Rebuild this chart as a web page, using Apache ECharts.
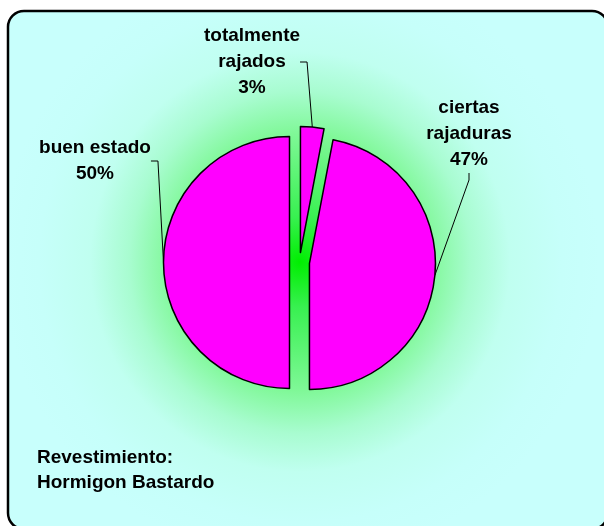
<!DOCTYPE html>
<html><head><meta charset="utf-8">
<script src="https://cdn.jsdelivr.net/npm/echarts@6/dist/echarts.min.js"></script>
<style>html,body{margin:0;padding:0;background:#fff}#c{width:604px;height:526px}</style>
</head><body><div id="c"></div>
<script>
// ---- data ----
const categories = ['totalmente\nrajados', 'ciertas\nrajaduras', 'buen estado'];
const values = [3, 47, 50];
const footerLines = ['Revestimiento:', 'Hormigon Bastardo'];

// ---- layout config (label placement) ----
const labelPlace = [
  {cx: 252, cy: 62, side: 'right'},
  {cx: 469, cy: 134, side: 'bottom'},
  {cx: 95, cy: 161, side: 'right'}
];

const CENTER = [299.5, 262.5];
const R = 126;
const OFFSET = 10;

const chart = echarts.init(document.getElementById('c'));
const font = 'Liberation Sans, Arial, sans-serif';
const dataItems = categories.map((c, i) => ({name: c, value: values[i]}));
chart.setOption({
  animation: false,
  backgroundColor: '#ffffff',
  graphic: [{
    type: 'rect', z: -10,
    shape: {x: 8, y: 11, width: 600, height: 518, r: 16},
    style: {
      fill: {type: 'radial', x: 300, y: 262, r: 300, global: true,
        colorStops: [
          {offset: 0, color: '#00ee00'},
          {offset: 0.15, color: '#38f050'},
          {offset: 0.43, color: '#80f898'},
          {offset: 0.57, color: '#a8fcd0'},
          {offset: 0.7, color: '#c0fff0'},
          {offset: 0.87, color: '#c6fffa'},
          {offset: 1, color: '#c8fffc'}
        ]},
      stroke: '#000', lineWidth: 2.5
    }
  }],
  title: {
    text: footerLines.join('\n'), left: 32, top: 440,
    textStyle: {fontSize: 19, fontWeight: 'bold', lineHeight: 25, fontFamily: font, color: '#000'}
  },
  series: [{
    type: 'pie',
    center: CENTER,
    radius: R,
    startAngle: 90,
    clockwise: true,
    selectedMode: 'multiple',
    selectedOffset: OFFSET,
    itemStyle: {color: '#ff00ff', borderColor: '#000', borderWidth: 1.5},
    emphasis: {disabled: true},
    label: {show: false},
    labelLine: {show: false},
    data: dataItems.map(d => Object.assign({selected: true}, d))
  }, {
    // label carrier: same slices, transparent, radius reaching the exploded arcs
    type: 'pie',
    center: CENTER,
    radius: R + OFFSET,
    startAngle: 90,
    clockwise: true,
    silent: true,
    selectedMode: false,
    avoidLabelOverlap: false,
    itemStyle: {color: 'rgba(0,0,0,0)', borderWidth: 0},
    emphasis: {disabled: true},
    label: {
      show: true, position: 'outside',
      formatter: p => p.name + '\n' + Math.round(p.percent) + '%',
      fontSize: 19, fontWeight: 'bold', lineHeight: 26, fontFamily: font, color: '#000',
      align: 'center'
    },
    labelLine: {show: true, length: 8, length2: 8, lineStyle: {color: '#000', width: 1}},
    labelLayout: function (params) {
      const pl = labelPlace[params.dataIndex];
      const w = params.labelRect.width, h = params.labelRect.height;
      const anchor = params.labelLinePoints ? params.labelLinePoints[0] : [pl.cx, pl.cy];
      let pts;
      if (pl.side === 'right') {
        const ax = pl.cx + w / 2;
        pts = [anchor, [ax + 7, pl.cy], [ax, pl.cy]];
      } else {
        const ay = pl.cy + h / 2;
        pts = [anchor, [pl.cx, ay + 7], [pl.cx, ay]];
      }
      return {x: pl.cx, y: pl.cy, align: 'center', verticalAlign: 'middle', labelLinePoints: pts};
    },
    data: dataItems
  }]
});
</script></body></html>
